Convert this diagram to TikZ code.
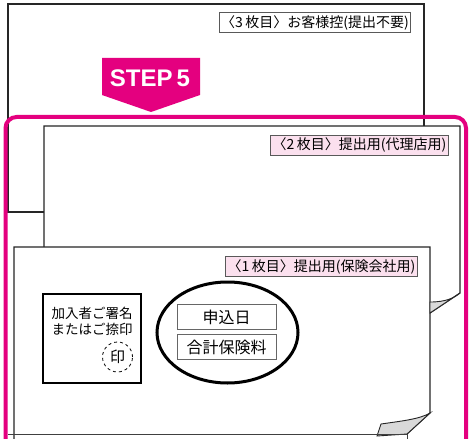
\documentclass[tikz,border=0pt]{standalone}
\usepackage{fontspec}
\setmainfont{Noto Sans CJK JP}
\newfontfamily\stepfont{Liberation Sans}
\usetikzlibrary{shapes.geometric}
\definecolor{steppink}{RGB}{228,0,127}
\definecolor{tagpink}{RGB}{251,224,238}

\begin{document}
\begin{tikzpicture}[x=1pt, y=-1pt,
  sheet/.style={draw=black!85, line width=1.1pt},
  curl/.style={draw=black!85, line width=0.9pt, fill=black!15},
  tag/.style={draw=black!65, fill=white, line width=0.8pt, inner xsep=2pt, inner ysep=0pt, minimum height=20pt, font=\fontsize{14}{16}\selectfont},
  pinktag/.style={tag, fill=tagpink},
  field/.style={draw=black!60, line width=0.8pt, minimum width=99pt, minimum height=25pt, inner sep=0pt, font=\fontsize{16}{18}\selectfont}
]
  \useasboundingbox (0,0) rectangle (470,438);
  \clip (0,0) rectangle (470,438);
  \fill[white] (0,0) rectangle (470,438);

  \filldraw[sheet, fill=white] (8,4) rectangle (424,212);
  \node[tag] (tag3) at (315,22.5) {〈3\,枚目〉お客様控(提出不要)};

  \fill[steppink] (102,58) -- (200,58) -- (200,95) -- (151,112) -- (102,95) -- cycle;
  \node[font=\stepfont\bfseries\fontsize{24}{28}\selectfont, text=white] (step) at (150,78) {STEP\,5};

  \fill[white] (44,126) rectangle (460,440);
  \draw[sheet] (44,440) -- (44,126) -- (460,126) -- (460,293) -- (430,313);
  \node[pinktag] (tag2) at (359.5,145) {〈2\,枚目〉提出用(代理店用)};

  \fill[white] (14,247) rectangle (430,440);
  \draw[sheet] (14,440) -- (14,247) -- (430,247) -- (430,413) -- (407,434);
  \draw[curl] (430,313) -- (430,302) .. controls (446,302) and (454,298) .. (460,293) -- cycle;
  \draw[curl] (407,434) -- (377,436) -- (381,424) .. controls (402,421) and (420,419) .. (430,413) -- cycle;
  \draw[black!75, line width=0.9pt] (8,434) -- (407,434) -- (407,440);
  \node[pinktag] (tag1) at (321.5,266.5) {〈1\,枚目〉提出用(保険会社用)};

  \node[draw, line width=2.5pt, minimum width=98pt, minimum height=89pt] (sign) at (92,338.5) {};
  \node[font=\fontsize{13.5}{16}\selectfont, align=left, inner sep=0pt] (signtext) at (92,321) {加入者ご署名\\またはご捺印};
  \node[draw, dashed, circle, line width=0.8pt, minimum size=30pt, inner sep=0pt, font=\fontsize{15}{16}\selectfont] (seal) at (117.5,357) {印};

  \node[draw, ellipse, line width=3pt, minimum width=141pt, minimum height=101pt] (mark) at (227.5,332.5) {};
  \node[field] (date) at (226.5,317) {申込日};
  \node[field] (premium) at (226.5,347) {合計保険料};

  \draw[steppink, line width=4pt, rounded corners=11pt] (5.5,117) rectangle (466,450);
\end{tikzpicture}
\end{document}
